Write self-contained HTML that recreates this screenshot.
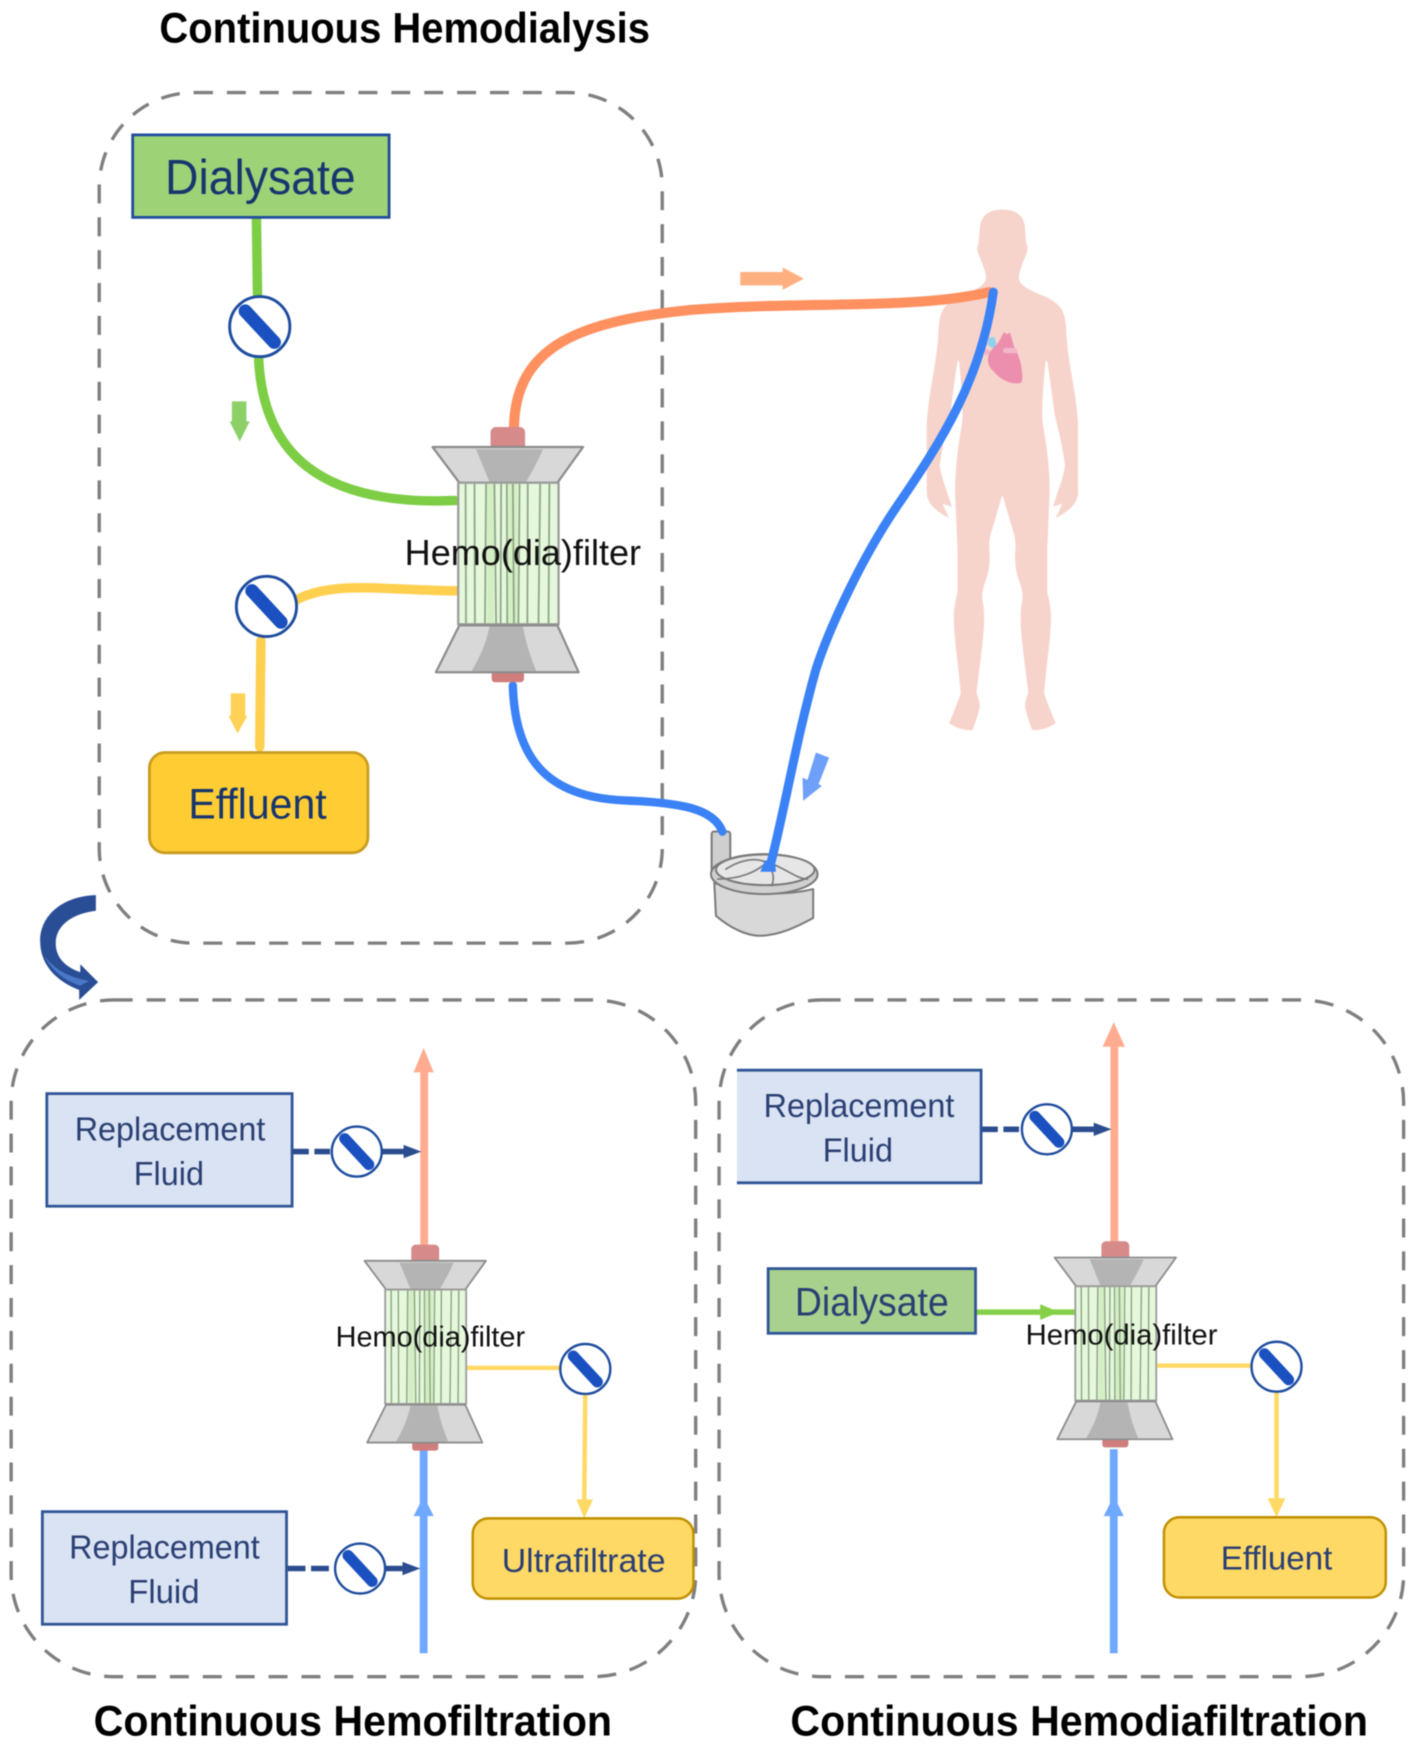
<!DOCTYPE html>
<html><head><meta charset="utf-8"><title>Continuous renal replacement therapies</title>
<style>html,body{margin:0;padding:0;background:#fff;overflow:hidden}svg{display:block;filter:blur(.6px)}
text{font-family:"Liberation Sans",sans-serif}</style></head>
<body>
<svg width="1417" height="1748" viewBox="0 0 1271 1568" preserveAspectRatio="none" xmlns="http://www.w3.org/2000/svg">
<defs>
<g id="filt">
  <rect x="440" y="383" width="31" height="21" rx="5" fill="#d68a8a"/>
  <rect x="441" y="602" width="29" height="10" rx="3" fill="#cf7d7d"/>
  <polygon points="388,401 523,401 500,433 412,433" fill="#d8d8d8" stroke="#8c8c8c" stroke-width="2" stroke-linejoin="round"/>
  <path d="M427 403 H487 C482 415 476 425 472 432 H439 C436 425 432 415 427 403 Z" fill="#b4b4b4"/>
  <rect x="411" y="433" width="90" height="127" fill="#e6f8dc" stroke="#9a9a9a" stroke-width="2"/>
  <g fill="#cdebb9" opacity=".7">
    <rect x="437" y="434" width="6" height="125"/><rect x="456" y="434" width="8" height="125"/>
  </g>
  <g stroke-width="1.6" stroke="#8ea587">
    <line x1="417.6" y1="434" x2="418" y2="560"/><line x1="425.6" y1="434" x2="426" y2="560"/>
    <line x1="436" y1="434" x2="435" y2="560"/><line x1="443.5" y1="434" x2="445" y2="560"/>
    <line x1="449.5" y1="434" x2="449" y2="560"/><line x1="454.6" y1="434" x2="455" y2="560"/>
    <line x1="460" y1="434" x2="461" y2="560"/><line x1="466" y1="434" x2="465" y2="560"/>
    <line x1="473.4" y1="434" x2="473" y2="560"/><line x1="484.5" y1="434" x2="483" y2="560"/>
    <line x1="492.8" y1="434" x2="492" y2="560"/>
  </g>
  <polygon points="412,561 500,561 519,603 391,603" fill="#d8d8d8" stroke="#8c8c8c" stroke-width="2" stroke-linejoin="round"/>
  <path d="M439 562 H469 C472 578 476 590 481 602 H423 C430 590 436 578 439 562 Z" fill="#b4b4b4"/>
</g>
<g id="valve">
  <circle cx="0" cy="0" r="27" fill="#fff" stroke="#1e4c9e" stroke-width="2.6"/>
  <line x1="-13" y1="-14" x2="13" y2="14" stroke="#1a50c0" stroke-width="12" stroke-linecap="round"/>
</g>
<path id="halfbody" fill="#f7d4cb" d="M308 55 L310 55 Q375 55 378 110 Q381 150 384 158 Q388 165 382 180 Q375 195 366 218 Q358 240 360 251 Q362 262 381 274 Q400 285 435 298 Q470 312 485 331 Q500 350 502 395 Q503 440 519 525 Q535 610 537 655 L537 850 Q535 890 470 920 L490 880 L462 888 L475 850 Q498 790 498 770 Q490 720 480 680 Q465 630 460 580 L445 480 L440 480 Q425 620 432 660 Q452 760 452 850 L445 1000 L445 1130 Q456 1165 456 1200 Q455 1250 445 1320 L435 1410 Q445 1440 470 1495 Q440 1515 400 1515 Q385 1480 378 1450 Q378 1430 388 1410 L372 1290 Q360 1200 368 1160 Q375 1130 360 1095 Q345 1060 349 1010 Q352 980 340 950 L312 860 L308 855 Z"/>
</defs>

<rect width="1271" height="1568" fill="#fff"/>

<!-- dashed containers -->
<g fill="none" stroke="#7f7f7f" stroke-width="3" stroke-dasharray="17 12.5">
  <rect x="89" y="83" width="505" height="763" rx="85"/>
  <rect x="10" y="897" width="614" height="607" rx="92"/>
  <rect x="645" y="897" width="614" height="607" rx="92"/>
</g>

<!-- titles -->
<g font-weight="700" fill="#000" font-size="38">
  <text x="143" y="38" textLength="440" lengthAdjust="spacingAndGlyphs">Continuous Hemodialysis</text>
  <text x="84" y="1557" textLength="465" lengthAdjust="spacingAndGlyphs">Continuous Hemofiltration</text>
  <text x="709" y="1557" textLength="518" lengthAdjust="spacingAndGlyphs">Continuous Hemodiafiltration</text>
</g>

<!-- human -->
<g transform="translate(806.5,170.3) scale(.2987,.32)">
  <use href="#halfbody"/>
  <use href="#halfbody" transform="translate(620,0) scale(-1,1)"/>
  <path fill="#f2b3c4" d="M255 445 L272 450 L272 458 L258 466 Z"/>
  <path fill="#8dd0f0" d="M270 415 L285 412 L292 430 L285 447 L266 434 Z"/>
  <path fill="#ec8fae" d="M272 455 C285 440 300 430 308 410 L315 398 L322 405 L332 400 L338 415 L345 440 C362 465 375 510 368 540 C340 550 300 530 285 510 C265 495 262 475 272 455 Z"/>
  <rect x="312" y="443" width="42" height="15" rx="7" fill="#f2b7c8"/>
</g>

<!-- pump -->
<g transform="translate(591.4,645.2) scale(.2987)" stroke="#7a7a7a" stroke-width="6" stroke-linejoin="round" stroke-linecap="round">
  <rect x="157" y="337" width="56" height="125" rx="8" fill="#cfcfcf"/>
  <path fill="#d8d8d8" d="M165 490 L170 590 C210 625 260 650 300 650 C360 650 420 620 462 597 L462 510 C380 530 250 530 165 490 Z"/>
  <ellipse cx="315" cy="465" rx="160" ry="60" fill="#d0d0d0"/>
  <ellipse cx="318" cy="452" rx="148" ry="46" fill="#e6e6e6"/>
  <path fill="none" stroke-width="5" d="M175 480 C240 480 290 460 322 430 M322 440 C345 450 345 480 338 500 M322 430 C370 440 410 480 445 480 M322 430 C280 410 230 430 200 450"/>
</g>

<!-- tubes -->
<g fill="none" stroke-linecap="round">
  <path d="M230 197 L231 266" stroke="#7dcd45" stroke-width="8.500"/>
  <path d="M232 322 C236 405 285 454 408 449" stroke="#7dcd45" stroke-width="8.500"/>
  <path d="M411 530 C350 530 300 520 266 538" stroke="#ffcf4f" stroke-width="8.500"/>
  <path d="M234 575 L233 670" stroke="#ffcf4f" stroke-width="8.500"/>
  <path d="M461 384 C462 310 520 288 620 278 C720 270 820 278 887 262" stroke="#ff9060" stroke-width="9"/>
  <path d="M460 615 C462 680 490 715 560 718 C610 720 640 725 648 746" stroke="#3a82f6" stroke-width="7.500"/>
  <path d="M891 262 C880 340 845 395 806 452 C775 497 745 560 732 600 C715 660 705 720 692 772" stroke="#3a82f6" stroke-width="8"/>
</g>
<polygon points="686,772 695,771 696,782 682,782" fill="#3a82f6"/>

<!-- small flow arrows -->
<polygon points="208,360 221,360 221,378 224,378 215,396 206,378 208,378" fill="#8dd068"/>
<polygon points="207,622 220,622 220,642 222,642 213,658 205,642 207,642" fill="#ffd257"/>
<polygon points="664,244 702,244 702,240 721,250 702,260 702,256 664,256" fill="#ffb081"/>
<polygon points="731.8,675 743.7,679.600 734.2,703.400 737.2,705 720.400,718.400 719.800,697.500 724.300,699.600" fill="#6ea0fa"/>

<!-- top section -->
<rect x="119" y="121" width="230" height="74" fill="#9dd277" stroke="#1f4e9c" stroke-width="2.5"/>
<text x="148" y="174" font-size="44" fill="#17366e" textLength="171" lengthAdjust="spacingAndGlyphs">Dialysate</text>
<rect x="134" y="675" width="196" height="90" rx="14" fill="#ffcc33" stroke="#c89c20" stroke-width="2.5"/>
<text x="169" y="734" font-size="38" fill="#17366e" textLength="124" lengthAdjust="spacingAndGlyphs">Effluent</text>
<use href="#valve" transform="translate(233,293)"/>
<use href="#valve" transform="translate(239,544)"/>
<use href="#filt"/>
<text x="363" y="507" font-size="32" fill="#111" textLength="212" lengthAdjust="spacingAndGlyphs">Hemo(dia)filter</text>

<!-- curved arrow -->
<path fill="#2a4e96" d="M86 803 L86 817 C62 820 50 832 50 846 C50 860 60 868 72 872 L72 865 L88 881 L71 897 L71 888 C50 880 36 865 36 844 C36 822 55 804 86 803 Z"/>
<path fill="#4a78c8" d="M40 858 C50 870 60 876 80 880 L72 884 C58 880 46 870 40 858 Z"/>

<!-- CVVH -->
<g>
  <rect x="377" y="958" width="7" height="160" fill="#ffab8f"/>
  <polygon points="380,940 389,962 371,962" fill="#ffab8f"/>
  <rect x="376.500" y="1300" width="7" height="183" fill="#6fa8ff"/>
  <polygon points="380,1342 389,1360 371,1360" fill="#6fa8ff"/>
  <use href="#filt" transform="translate(381,1131) scale(.807) translate(-455,-401)"/>
  <text x="301" y="1208" font-size="26" fill="#111" textLength="170" lengthAdjust="spacingAndGlyphs">Hemo(dia)filter</text>

  <rect x="42" y="981" width="220" height="101" fill="#dae3f3" stroke="#2f5597" stroke-width="2.5"/>
  <text x="67" y="1023" font-size="30" fill="#2a3f73" textLength="171" lengthAdjust="spacingAndGlyphs">Replacement</text>
  <text x="120" y="1063" font-size="30" fill="#2a3f73" textLength="63" lengthAdjust="spacingAndGlyphs">Fluid</text>
  <line x1="263" y1="1033" x2="300" y2="1033" stroke="#2b4d8f" stroke-width="5" stroke-dasharray="14 5"/>
  <line x1="343" y1="1033" x2="364" y2="1033" stroke="#2b4d8f" stroke-width="5"/>
  <polygon points="362,1027 378,1033 362,1039" fill="#2b4d8f"/>
  <use href="#valve" transform="translate(320,1033) scale(.83)"/>

  <rect x="38" y="1356" width="219" height="101" fill="#dae3f3" stroke="#2f5597" stroke-width="2.5"/>
  <text x="62" y="1398" font-size="30" fill="#2a3f73" textLength="171" lengthAdjust="spacingAndGlyphs">Replacement</text>
  <text x="115" y="1438" font-size="30" fill="#2a3f73" textLength="64" lengthAdjust="spacingAndGlyphs">Fluid</text>
  <line x1="258" y1="1407" x2="300" y2="1407" stroke="#2b4d8f" stroke-width="5" stroke-dasharray="16 5"/>
  <line x1="345" y1="1407" x2="362" y2="1407" stroke="#2b4d8f" stroke-width="5"/>
  <polygon points="361,1401 377,1407 361,1413" fill="#2b4d8f"/>
  <use href="#valve" transform="translate(323,1407) scale(.83)"/>

  <line x1="419" y1="1227" x2="503" y2="1227" stroke="#ffd966" stroke-width="4"/>
  <line x1="525" y1="1250" x2="524" y2="1350" stroke="#ffd966" stroke-width="4"/>
  <polygon points="517,1345 532,1345 524,1362" fill="#ffd966"/>
  <use href="#valve" transform="translate(525,1228) scale(.83)"/>
  <rect x="424" y="1362" width="198" height="72" rx="14" fill="#ffd966" stroke="#bf9000" stroke-width="2.2"/>
  <text x="450" y="1410" font-size="30" fill="#2a3f73" textLength="147" lengthAdjust="spacingAndGlyphs">Ultrafiltrate</text>
</g>

<!-- CVVHDF -->
<g>
  <rect x="996" y="935" width="7" height="181" fill="#ffab8f"/>
  <polygon points="999,917 1009,939 989,939" fill="#ffab8f"/>
  <rect x="995.500" y="1300" width="7" height="183" fill="#6fa8ff"/>
  <polygon points="999,1342 1008,1360 990,1360" fill="#6fa8ff"/>
  <line x1="876" y1="1177" x2="965" y2="1177" stroke="#85d046" stroke-width="5"/>
  <polygon points="933,1170 950,1177 933,1184" fill="#85d046"/>
  <use href="#filt" transform="translate(1000,1128) scale(.807) translate(-455,-401)"/>
  <text x="920" y="1206" font-size="26" fill="#111" textLength="172" lengthAdjust="spacingAndGlyphs">Hemo(dia)filter</text>

  <rect x="661" y="960" width="219" height="101" fill="#dae3f3"/>
  <path d="M661 960 H880 V1061 H661" fill="none" stroke="#2f5597" stroke-width="2.5"/>
  <text x="685" y="1002" font-size="30" fill="#2a3f73" textLength="171" lengthAdjust="spacingAndGlyphs">Replacement</text>
  <text x="738" y="1042" font-size="30" fill="#2a3f73" textLength="63" lengthAdjust="spacingAndGlyphs">Fluid</text>
  <line x1="881" y1="1013" x2="918" y2="1013" stroke="#2b4d8f" stroke-width="5" stroke-dasharray="14 5"/>
  <line x1="961" y1="1013" x2="982" y2="1013" stroke="#2b4d8f" stroke-width="5"/>
  <polygon points="981,1007 997,1013 981,1019" fill="#2b4d8f"/>
  <use href="#valve" transform="translate(939,1013) scale(.83)"/>

  <rect x="689" y="1138" width="186" height="58" fill="#a9d18e" stroke="#2f5597" stroke-width="2.5"/>
  <text x="713" y="1180" font-size="36" fill="#2a3f73" textLength="138" lengthAdjust="spacingAndGlyphs">Dialysate</text>

  <line x1="1038" y1="1225" x2="1122" y2="1225" stroke="#ffd966" stroke-width="4"/>
  <line x1="1145" y1="1248" x2="1145" y2="1350" stroke="#ffd966" stroke-width="4"/>
  <polygon points="1137,1344 1153,1344 1145,1361" fill="#ffd966"/>
  <use href="#valve" transform="translate(1145,1226) scale(.83)"/>
  <rect x="1044" y="1361" width="199" height="72" rx="14" fill="#ffd966" stroke="#bf9000" stroke-width="2.2"/>
  <text x="1095" y="1408" font-size="30" fill="#2a3f73" textLength="100" lengthAdjust="spacingAndGlyphs">Effluent</text>
</g>
</svg>
</body></html>
